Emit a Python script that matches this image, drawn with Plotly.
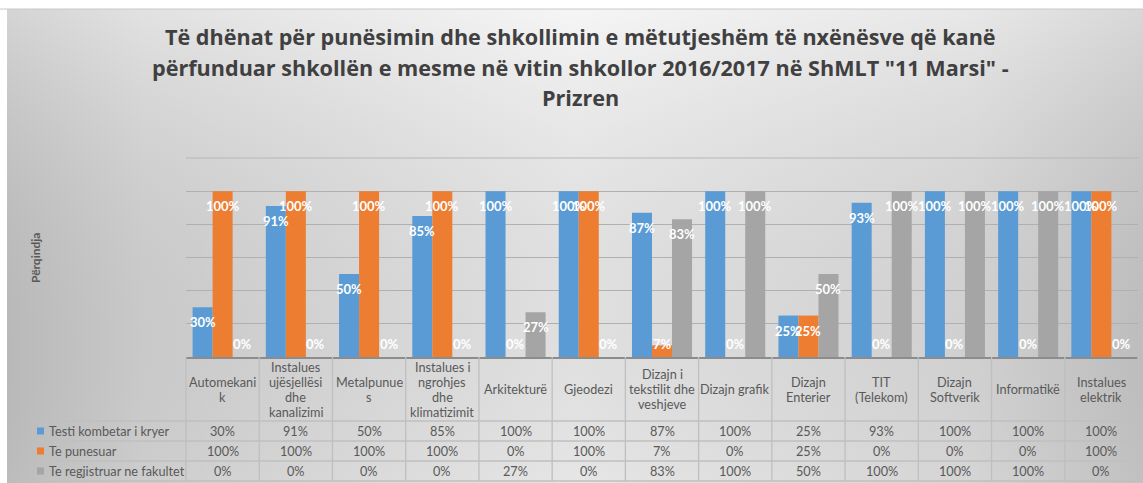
import base64
import plotly.graph_objects as go

categories = ["Automekanik", "Instalues ujësjellësi dhe kanalizimi", "Metalpunues",
              "Instalues i ngrohjes dhe klimatizimit", "Arkitekturë", "Gjeodezi",
              "Dizajn i tekstilit dhe veshjeve", "Dizajn grafik", "Dizajn Enterier",
              "TIT (Telekom)", "Dizajn Softverik", "Informatikë", "Instalues elektrik"]
header_labels = [["Automekani", "k"], ["Instalues", "ujësjellësi", "dhe", "kanalizimi"],
                 ["Metalpunue", "s"], ["Instalues i", "ngrohjes", "dhe", "klimatizimit"],
                 ["Arkitekturë"], ["Gjeodezi"], ["Dizajn i", "tekstilit dhe", "veshjeve"],
                 ["Dizajn grafik"], ["Dizajn", "Enterier"], ["TIT", "(Telekom)"],
                 ["Dizajn", "Softverik"], ["Informatikë"], ["Instalues", "elektrik"]]
series_names = ["Testi kombetar i kryer", "Te punesuar", "Te regjistruar ne fakultet"]
testi_kombetar = [30, 91, 50, 85, 100, 100, 87, 100, 25, 93, 100, 100, 100]
te_punesuar = [100, 100, 100, 100, 0, 100, 7, 0, 25, 0, 0, 0, 100]
te_regjistruar = [0, 0, 0, 0, 27, 0, 83, 100, 50, 100, 100, 100, 0]
series_values = [testi_kombetar, te_punesuar, te_regjistruar]
colors = ["#5B9BD5", "#ED7D31", "#A5A5A5"]
title_lines = ["Të dhënat për punësimin dhe shkollimin e mëtutjeshëm të nxënësve që kanë",
               "përfunduar shkollën e mesme në vitin shkollor 2016/2017 në ShMLT \"11 Marsi\" -",
               "Prizren"]
y_title = "Përqindja"
y_max = 120

W, H = 1143, 483
L, R, T, B = 186, 1138, 157, 357
BARGAP = 0.18
TXT = "#595959"
GRID = "#BFBFBF"


def xp(px):
    return (px - L) / (R - L)


def yp(py):
    return (B - py) / (B - T)


def note(x, y, text, font, **kw):
    d = dict(x=xp(x), y=yp(y), xref="paper", yref="paper", text=text, showarrow=False,
             xanchor="center", yanchor="middle", font=font)
    d.update(kw)
    return d


fig = go.Figure()
for name, vals, c in zip(series_names, series_values, colors):
    fig.add_trace(go.Bar(x=categories, y=vals, name=name, marker=dict(color=c, line=dict(width=0)),
                         showlegend=False, hoverinfo="x+y+name"))

annotations = []
n = len(categories)
w = (1 - BARGAP) / 3
for j, vals in enumerate(series_values):
    for i, v in enumerate(vals):
        big = v >= 17
        annotations.append(dict(x=i + (j - 1) * w, y=v if big else 0, xref="x", yref="y",
                                xanchor="center", yanchor="middle",
                                yshift=-15 if big else 13, text=f"{v}%", showarrow=False,
                                font=dict(family="Lato", size=13, color="white", weight="bold")))

title_font = dict(family="Open Sans", size=21.6, color="#404040", weight="bold")
for k, line in enumerate(title_lines):
    annotations.append(note(580, 37 + k * 30, line, title_font))

annotations.append(note(35, 258, y_title, dict(family="Lato", size=12, color=TXT, weight="bold"),
                        textangle=-90))

shapes = []
shapes.append(dict(type="line", xref="paper", yref="paper", x0=xp(0), x1=xp(W), y0=yp(9), y1=yp(9),
                   line=dict(color="#C8C8C8", width=1)))
# top gridline (axis maximum)
shapes.append(dict(type="line", xref="paper", yref="paper", x0=0, x1=1, y0=y_max / (y_max * 1.005),
                   y1=y_max / (y_max * 1.005), line=dict(color="#B8B8B8", width=1), layer="above"))
cw = (R - L) / n
for ry in [421, 441, 461, 481]:
    shapes.append(dict(type="line", xref="paper", yref="paper", x0=xp(33), x1=xp(R), y0=yp(ry), y1=yp(ry),
                       line=dict(color=GRID, width=1.3)))
for k in range(n + 1):
    x = L + k * cw
    shapes.append(dict(type="line", xref="paper", yref="paper", x0=xp(x), x1=xp(x), y0=yp(B), y1=yp(481),
                       line=dict(color=GRID, width=1.3)))
shapes.append(dict(type="line", xref="paper", yref="paper", x0=xp(33), x1=xp(33), y0=yp(421), y1=yp(481),
                   line=dict(color=GRID, width=1.3)))

table_font = dict(family="Lato", size=12.7, color=TXT)
for i, lines in enumerate(header_labels):
    cx = L + (i + 0.5) * cw
    m = len(lines)
    for k, line in enumerate(lines):
        cy = 389 + (k - (m - 1) / 2) * 15
        annotations.append(note(cx, cy, line, table_font))

for r, (name, vals, c) in enumerate(zip(series_names, series_values, colors)):
    cy = 431 + r * 20
    shapes.append(dict(type="rect", xref="paper", yref="paper", x0=xp(37), x1=xp(44), y0=yp(cy - 3.5),
                       y1=yp(cy + 3.5), fillcolor=c, line=dict(width=0)))
    annotations.append(note(47, cy, name, table_font, xanchor="left"))
    for i, v in enumerate(vals):
        cx = L + (i + 0.5) * cw
        annotations.append(note(cx, cy, f"{v}%", table_font))

svg = ('<svg xmlns="http://www.w3.org/2000/svg" width="1136" height="474" preserveAspectRatio="none">'
       '<defs><linearGradient id="h" x1="0" y1="0" x2="1" y2="0">'
       '<stop offset="0" stop-color="#c6c6c6"/><stop offset="0.12" stop-color="#d8d8d8"/>'
       '<stop offset="0.5" stop-color="#f2f2f2"/><stop offset="0.85" stop-color="#e0e0e0"/>'
       '<stop offset="1" stop-color="#cbcbcb"/></linearGradient>'
       '<linearGradient id="v" x1="0" y1="0" x2="0" y2="1">'
       '<stop offset="0" stop-color="#ffffff" stop-opacity="0.25"/>'
       '<stop offset="1" stop-color="#000000" stop-opacity="0.05"/></linearGradient></defs>'
       '<rect width="1136" height="474" fill="url(#h)"/>'
       '<rect width="1136" height="474" fill="url(#v)"/></svg>')
src = "data:image/svg+xml;base64," + base64.b64encode(svg.encode()).decode()

fig.update_layout(
    width=W, height=H,
    margin=dict(l=L, r=W - R, t=T, b=H - B),
    paper_bgcolor="white", plot_bgcolor="rgba(0,0,0,0)",
    barmode="group", bargap=BARGAP, bargroupgap=0,
    xaxis=dict(type="category", categoryorder="array", categoryarray=categories, range=[-0.5, n - 0.5],
               showticklabels=False, showgrid=False, showline=True, linecolor="#8C8C8C", linewidth=2,
               ticks="", fixedrange=True),
    yaxis=dict(range=[0, y_max * 1.005], tick0=0, dtick=20, showticklabels=False, showgrid=True,
               gridcolor="#B0B0B0", gridwidth=1, zeroline=False, fixedrange=True),
    annotations=annotations, shapes=shapes,
    images=[dict(source=src, xref="paper", yref="paper", x=xp(7), y=yp(9), sizex=(W - 7) / (R - L),
                 sizey=(H - 9) / (B - T), xanchor="left", yanchor="top", sizing="stretch", layer="below")],
)

fig.write_html("out.html", config={"displayModeBar": False},
               post_script="document.body.style.margin='0';document.body.style.overflow='hidden';")
